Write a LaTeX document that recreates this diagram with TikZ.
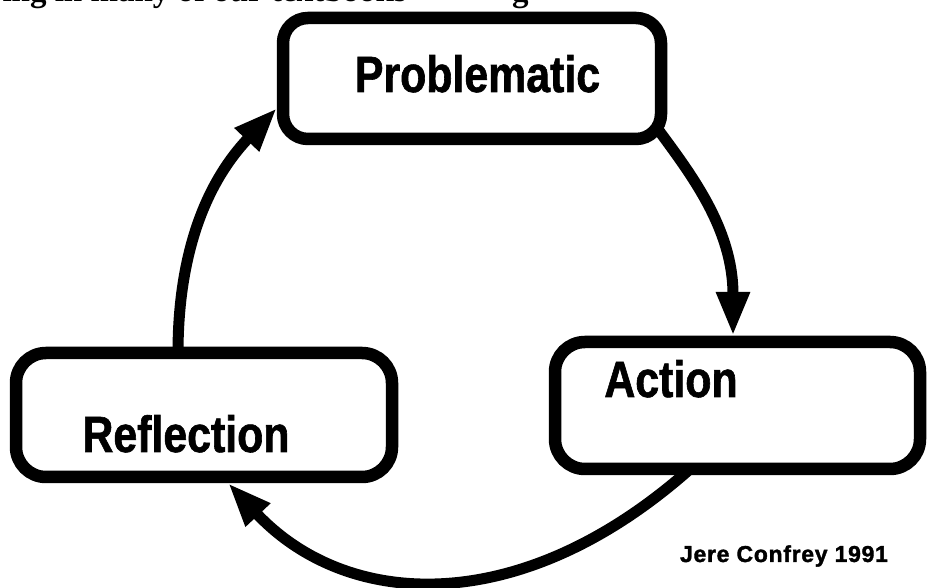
\documentclass[tikz,border=0pt]{standalone}
\usepackage{fontspec}
\setmainfont{Liberation Sans}
\newfontfamily\boxfont{Liberation Sans}[FakeStretch=0.84,FakeBold=1.2]
\newfontfamily\creditfont{Liberation Sans}[FakeBold=1.6,LetterSpace=3]
\newfontfamily\scanserif{Liberation Serif}
\usetikzlibrary{arrows.meta,calc}
\begin{document}
\begin{tikzpicture}[x=1pt,y=1pt,
  box/.style={draw, line width=12.5pt, rounded corners=30pt, inner sep=0pt, outer sep=0pt},
  lbl/.style={font=\boxfont\bfseries\fontsize{51}{51}\selectfont, inner sep=0pt, anchor=base},
  conn/.style={line width=11pt, -{Triangle[length=44pt,width=31pt]}},
  scan/.style={font=\scanserif\bfseries\fontsize{33}{33}\selectfont, inner sep=0pt},
]
\useasboundingbox[fill=white] (0,0) rectangle (928,588);
\clip (0,0) rectangle (928,588);
% partially cut line of the scanned page
\node[scan, anchor=base east] (topline) at (407,586) {ing in many of our textbooks};
\node[scan, anchor=base west] (topg) at (512,586) {g};
% boxes
\node[box, rounded corners=25pt, minimum width=378pt, minimum height=121pt] (prob) at (472,509.5) {};
\node[box, minimum width=365pt, minimum height=127pt] (act) at (737.5,182.5) {};
\node[box, minimum width=376pt, minimum height=124pt] (refl) at (204,173) {};
% labels
\node[lbl] (tprob) at ($(prob.center)+(5.5,-13.5)$) {Problematic};
\node[lbl] (tact) at ($(act.center)+(-66.5,8.5)$) {Action};
\node[lbl] (trefl) at ($(refl.center)+(-18,-37)$) {Reflection};
\node[font=\creditfont\bfseries\fontsize{23}{23}\selectfont, anchor=base, inner sep=0pt] (credit) at (784,26) {Jere Confrey 1991};
% connectors
\draw[conn] ($(prob.south east)+(-4,11)$) .. controls +(33,-45) and +(0,108) .. ($(act.north)+(-4.5,6)$);
\draw[conn] ($(act.south)+(-47.5,0)$) .. controls +(-169,-150) and +(119,-127) .. ($(refl.south)+(24,-6)$);
\draw[conn] ($(refl.north)+(-26,0)$) .. controls +(0,90) and +(-76,-80) .. ($(prob.south west)+(-6,31)$);
\end{tikzpicture}
\end{document}
